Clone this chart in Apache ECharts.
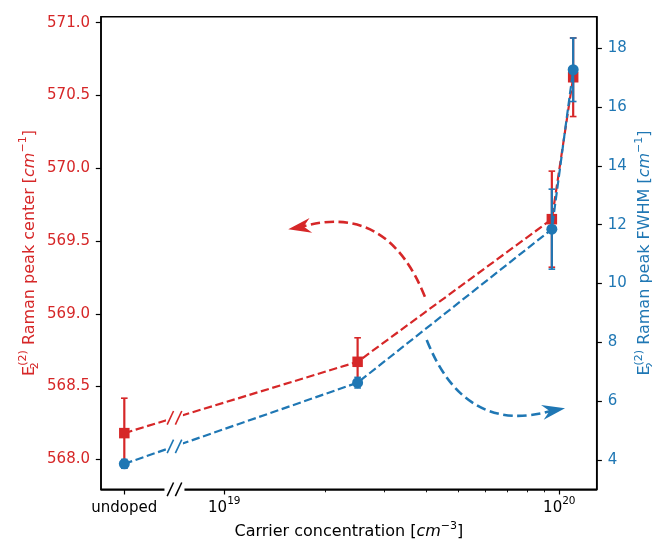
<!DOCTYPE html>
<html>
<head>
<meta charset="utf-8">
<script src="https://cdn.jsdelivr.net/npm/echarts@6/dist/echarts.min.js"></script>
<style>
  html, body { margin: 0; padding: 0; background: #fff; }
  #chart { width: 652px; height: 541px; }
</style>
</head>
<body>
<div id="chart"></div>
<script>
// Carrier concentration of each sample in cm^-3 (null = undoped reference)
const carrierConc = [null, 2.5e19, 9.5e19, 1.1e20];
// E2(2) Raman peak centre in cm^-1, with its uncertainty
const peakCenter = [568.18, 568.67, 569.65, 570.625];
const peakCenterErr = [0.24, 0.165, 0.33, 0.27];
// E2(2) Raman peak FWHM in cm^-1, with its uncertainty
const peakFwhm = [3.87, 6.63, 11.85, 17.27];
const peakFwhmErr = [0.15, 0.18, 1.36, 1.08];

// Where the undoped sample and the axis break sit on the log axis
const undopedPosition = 5.03e18;
const axisBreakAt = 7.1e18;

// Tick positions
const centerTicks = [568.0, 568.5, 569.0, 569.5, 570.0, 570.5, 571.0];
const fwhmTicks = [4, 6, 8, 10, 12, 14, 16, 18];
const decadeTicks = [1e19, 1e20];
const minorTicks = [2e19, 3e19, 4e19, 5e19, 6e19, 7e19, 8e19, 9e19];

// Curved guide arrows: [x, y] start and arrow tip in data units
const centerArrow = [[3.97e19, 569.117], [1.552e19, 569.58]];
const fwhmArrow = [[4.02e19, 8.08], [1.04e20, 5.76]];

const RED = '#d62728';
const BLUE = '#1f77b4';
const FONT = 'DejaVu Sans';

const lg = Math.log10;
const xPos = carrierConc.map(c => lg(c === null ? undopedPosition : c));
const xBreak = lg(axisBreakAt);
const xTickValues = [lg(undopedPosition)].concat(decadeTicks.map(lg));
const xTickLabels = ['{b|undoped}'].concat(
  decadeTicks.map(d => '{b|10}{s|' + Math.round(lg(d)) + '}'));

const X_MIN = 18.632, X_MAX = 20.1116;

const baseRich = {
  b: { fontFamily: FONT, fontSize: 15, color: '#000', lineHeight: 20, verticalAlign: 'bottom' },
  s: { fontFamily: FONT, fontSize: 10.5, color: '#000', verticalAlign: 'top' }
};

function nameRich(color) {
  return {
    t: { fontFamily: FONT, fontSize: 16, color, lineHeight: 23, verticalAlign: 'middle' },
    i: { fontFamily: FONT, fontSize: 16, fontStyle: 'italic', color, verticalAlign: 'middle' },
    sub: { fontFamily: FONT, fontSize: 11, color, verticalAlign: 'bottom', width: 0.01 },
    sup: { fontFamily: FONT, fontSize: 11, color, verticalAlign: 'top' }
  };
}

function errorBars(values, errs, yAxisIndex, color, z) {
  return {
    type: 'custom',
    xAxisIndex: 0,
    yAxisIndex,
    z,
    silent: true,
    clip: false,
    data: xPos.map((x, i) => [x, values[i] - errs[i], values[i] + errs[i]]),
    renderItem(params, api) {
      const lo = api.coord([api.value(0), api.value(1)]);
      const hi = api.coord([api.value(0), api.value(2)]);
      const cap = 3.3;
      const st = { stroke: color, lineWidth: 2.2 };
      return {
        type: 'group',
        children: [
          { type: 'line', shape: { x1: lo[0], y1: lo[1], x2: hi[0], y2: hi[1] }, style: st },
          { type: 'line', shape: { x1: lo[0] - cap, y1: lo[1], x2: lo[0] + cap, y2: lo[1] }, style: { stroke: color, lineWidth: 1.6 } },
          { type: 'line', shape: { x1: hi[0] - cap, y1: hi[1], x2: hi[0] + cap, y2: hi[1] }, style: { stroke: color, lineWidth: 1.6 } }
        ]
      };
    }
  };
}

function dataLine(values, yAxisIndex, color, symbol, size, z) {
  return {
    type: 'line',
    xAxisIndex: 0,
    yAxisIndex,
    z,
    silent: true,
    data: xPos.map((x, i) => [x, values[i]]),
    symbol,
    symbolSize: size,
    showSymbol: true,
    itemStyle: { color, borderWidth: 0 },
    lineStyle: { color, width: 2.2, type: [8.3, 3.6] }
  };
}

// "//" marks where the axis is broken
function slashes(cx, cy, color, w) {
  return [-4.1, 4.1].map(off => ({
    type: 'line',
    shape: { x1: cx + off - 3.2, y1: cy + 6.8, x2: cx + off + 3.2, y2: cy - 6.8 },
    style: { stroke: color, lineWidth: w }
  }));
}

function breakMarks(values, yAxisIndex, color) {
  return {
    type: 'custom',
    xAxisIndex: 0,
    yAxisIndex,
    z: 7,
    silent: true,
    clip: false,
    data: [[xPos[0], values[0], xPos[1], values[1]]],
    renderItem(params, api) {
      const a = api.coord([api.value(0), api.value(1)]);
      const b = api.coord([api.value(2), api.value(3)]);
      const bx = api.coord([xBreak, values[0]])[0];
      const by = a[1] + (b[1] - a[1]) * (bx - a[0]) / (b[0] - a[0]);
      return {
        type: 'group',
        children: [
          { type: 'rect', shape: { x: bx - 8.5, y: by - 5, width: 17, height: 10 }, style: { fill: '#fff' } }
        ].concat(slashes(bx, by, color, 1.6))
      };
    }
  };
}

const axisBreak = {
  type: 'custom',
  xAxisIndex: 0,
  yAxisIndex: 0,
  z: 8,
  silent: true,
  clip: false,
  data: [[xBreak]],
  renderItem(params, api) {
    const cs = params.coordSys;
    const bx = api.coord([api.value(0), centerTicks[0]])[0];
    const by = cs.y + cs.height;
    return {
      type: 'group',
      children: [
        { type: 'rect', shape: { x: bx - 10, y: by - 3, width: 20, height: 6 }, style: { fill: '#fff' } }
      ].concat(slashes(bx, by, '#000', 1.5))
    };
  }
};

// Dashed arc (quadratic curve bent by `bend`) ending in a stealth arrow head
function guideArrow(coords, yAxisIndex, color, bend) {
  return {
    type: 'custom',
    xAxisIndex: 0,
    yAxisIndex,
    z: 1,
    silent: true,
    clip: false,
    data: [[lg(coords[0][0]), coords[0][1], lg(coords[1][0]), coords[1][1]]],
    renderItem(params, api) {
      const p1 = api.coord([api.value(0), api.value(1)]);
      const p2 = api.coord([api.value(2), api.value(3)]);
      const mx = (p1[0] + p2[0]) / 2, my = (p1[1] + p2[1]) / 2;
      const cx = mx + bend * (p2[1] - p1[1]);
      const cy = my - bend * (p2[0] - p1[0]);
      const t = 0.82;
      const bx = (1 - t) * (1 - t) * p1[0] + 2 * t * (1 - t) * cx + t * t * p2[0];
      const by = (1 - t) * (1 - t) * p1[1] + 2 * t * (1 - t) * cy + t * t * p2[1];
      let ux = p2[0] - bx, uy = p2[1] - by;
      const len = Math.hypot(ux, uy);
      ux /= len; uy /= len;
      const nx = -uy, ny = ux;
      const L = 23, W = 15;
      const head = [
        [p2[0], p2[1]],
        [p2[0] - L * ux + W / 2 * nx, p2[1] - L * uy + W / 2 * ny],
        [p2[0] - 0.68 * L * ux, p2[1] - 0.68 * L * uy],
        [p2[0] - L * ux - W / 2 * nx, p2[1] - L * uy - W / 2 * ny]
      ];
      return {
        type: 'group',
        children: [
          {
            type: 'bezierCurve',
            shape: { x1: p1[0], y1: p1[1], x2: p2[0] - 12 * ux, y2: p2[1] - 12 * uy, cpx1: cx, cpy1: cy },
            style: { stroke: color, fill: null, lineWidth: 2.6, lineDash: [9.5, 4.5] }
          },
          { type: 'polygon', shape: { points: head }, style: { fill: color } }
        ]
      };
    }
  };
}

const chart = echarts.init(document.getElementById('chart'), null, { renderer: 'canvas' });

chart.setOption({
  animation: false,
  backgroundColor: '#fff',
  grid: {
    left: 101, right: 55.3, top: 16.7, bottom: 51.7,
    show: true, borderColor: '#000', borderWidth: 1.5, backgroundColor: 'transparent',
    outerBoundsMode: 'none'
  },
  xAxis: [
    {
      type: 'value', min: X_MIN, max: X_MAX,
      axisLine: { show: true, lineStyle: { color: '#000', width: 1.5 } },
      axisTick: { show: true, customValues: xTickValues, length: 5.2, lineStyle: { color: '#000', width: 1.2 } },
      axisLabel: {
        show: true, customValues: xTickValues, margin: 6,
        formatter: v => {
          const k = xTickValues.findIndex(t => Math.abs(t - v) < 1e-6);
          return k >= 0 ? xTickLabels[k] : '';
        },
        rich: baseRich
      },
      splitLine: { show: false },
      name: '{t|Carrier concentration [}{i|cm}{sup|\u22123}{t|]}',
      nameLocation: 'middle', nameGap: 31, nameMoveOverlap: false,
      nameTextStyle: { rich: nameRich('#000') }
    },
    {
      type: 'value', min: X_MIN, max: X_MAX, position: 'bottom',
      axisLine: { show: false },
      axisTick: { show: true, customValues: minorTicks.map(lg), length: 3, lineStyle: { color: '#000', width: 0.9 } },
      axisLabel: { show: false },
      splitLine: { show: false }
    }
  ],
  yAxis: [
    {
      type: 'value', position: 'left', min: 567.794, max: 571.041,
      axisLine: { show: true, lineStyle: { color: '#000', width: 1.5 } },
      axisTick: { show: true, customValues: centerTicks, length: 5.2, lineStyle: { color: '#000', width: 1.2 } },
      axisLabel: {
        customValues: centerTicks, margin: 11, color: RED,
        fontFamily: FONT, fontSize: 15,
        formatter: v => v.toFixed(1)
      },
      splitLine: { show: false },
      name: '{t|E}{sub|2}{sup|(2)}{t| Raman peak center [}{i|cm}{sup|\u22121}{t|]}',
      nameLocation: 'middle', nameRotate: 90, nameGap: 60, nameMoveOverlap: false,
      nameTextStyle: { rich: nameRich(RED) }
    },
    {
      type: 'value', position: 'right', min: 3.004, max: 19.074,
      axisLine: { show: true, lineStyle: { color: '#000', width: 1.5 } },
      axisTick: { show: true, customValues: fwhmTicks, length: 5.2, lineStyle: { color: '#000', width: 1.2 } },
      axisLabel: {
        customValues: fwhmTicks, margin: 11, color: BLUE,
        fontFamily: FONT, fontSize: 15,
        formatter: v => String(v)
      },
      splitLine: { show: false },
      name: '{t|E}{sub|2}{sup|(2)}{t| Raman peak FWHM [}{i|cm}{sup|\u22121}{t|]}',
      nameLocation: 'middle', nameRotate: 90, nameGap: 37, nameMoveOverlap: false,
      nameTextStyle: { rich: nameRich(BLUE) }
    }
  ],
  series: [
    guideArrow(centerArrow, 0, RED, -0.45),
    guideArrow(fwhmArrow, 1, BLUE, -0.45),
    errorBars(peakCenter, peakCenterErr, 0, RED, 2),
    dataLine(peakCenter, 0, RED, 'rect', 10.5, 3),
    errorBars(peakFwhm, peakFwhmErr, 1, BLUE, 4),
    dataLine(peakFwhm, 1, BLUE, 'circle', 11, 5),
    breakMarks(peakCenter, 0, RED),
    breakMarks(peakFwhm, 1, BLUE),
    axisBreak
  ]
});
</script>
</body>
</html>
